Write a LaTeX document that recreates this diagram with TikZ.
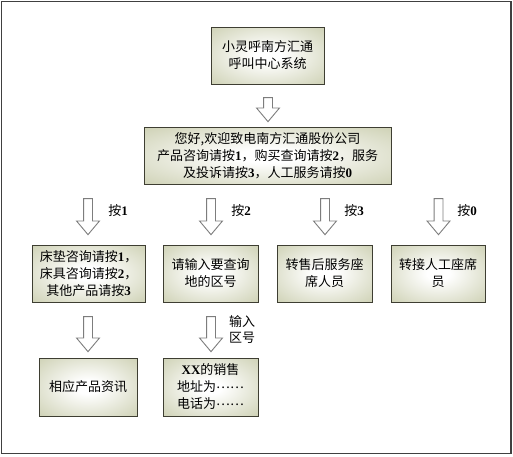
\documentclass[tikz,border=0pt]{standalone}
\usepackage{fontspec}
\setmainfont{Liberation Serif}
\newfontfamily\cjk{Noto Sans CJK SC}
\usetikzlibrary{shapes.arrows}
\definecolor{boxedge}{RGB}{190,194,156}
\definecolor{boxline}{RGB}{62,62,50}
\definecolor{arrline}{RGB}{125,125,125}
\pgfdeclareradialshading{boxshade}{\pgfpoint{0bp}{0bp}}{color(0bp)=(white); color(6bp)=(white); color(46bp)=(boxedge); color(80bp)=(boxedge)}
\newcommand\bdig[1]{{\rmfamily\bfseries #1}}
\newcommand\middots{\raisebox{0.3em}{……}}

\begin{document}
\begin{tikzpicture}[
    x=1pt, y=-1pt,
    box/.style={draw=boxline, line width=0.8pt, shading=boxshade,
                minimum height=57pt, align=center, inner sep=2pt,
                font=\cjk\fontsize{13}{17}\selectfont},
    blockarr/.style={single arrow, draw=arrline, fill=white, line width=0.9pt,
                     rotate=-90, inner xsep=0pt, inner ysep=4pt, minimum width=22pt,
                     single arrow head extend=7pt, single arrow tip angle=80},
    lbl/.style={font=\cjk\fontsize{13}{17}\selectfont, align=center}
  ]
  \useasboundingbox (0,0) rectangle (513,456);
  \draw[line width=1.5pt, black!75] (1.5,1.5) rectangle (511,453.5);

  % top
  \node[box, minimum width=113pt] (sys) at (267.5, 55.5)
    {小灵呼南方汇通\\呼叫中心系统};
  \node[blockarr, minimum height=24pt] (a-sys) at (268, 107) {};
  \node[box, minimum width=247pt] (menu) at (267.5, 156)
    {您好,欢迎致电南方汇通股份公司\\产品咨询请按\bdig{1}，购买查询请按\bdig{2}，服务\\及投诉请按\bdig{3}，人工服务请按\bdig{0}};

  % key arrows
  \node[blockarr, minimum height=36pt] (a-k1) at (88, 214) {};
  \node[blockarr, minimum height=36pt] (a-k2) at (211, 214) {};
  \node[blockarr, minimum height=36pt] (a-k3) at (325, 214) {};
  \node[blockarr, minimum height=36pt] (a-k0) at (438.5, 214) {};
  \node[lbl] (l-k1) at (118, 211) {按\bdig{1}};
  \node[lbl] (l-k2) at (241, 211) {按\bdig{2}};
  \node[lbl] (l-k3) at (354, 211) {按\bdig{3}};
  \node[lbl] (l-k0) at (467, 211) {按\bdig{0}};

  % options
  \node[box, minimum width=113pt] (opt1) at (88.5, 273.5)
    {床垫咨询请按\bdig{1}，\\床具咨询请按\bdig{2}，\\其他产品请按\bdig{3}};
  \node[box, minimum width=95pt] (opt2) at (210.5, 273.5)
    {请输入要查询\\地的区号};
  \node[box, minimum width=95pt] (opt3) at (324.5, 273.5)
    {转售后服务座\\席人员};
  \node[box, minimum width=94pt] (opt0) at (438, 273.5)
    {转接人工座席\\员};

  % results
  \node[blockarr, minimum height=35pt] (a-r1) at (88, 331.5) {};
  \node[blockarr, minimum height=35pt] (a-r2) at (211, 331.5) {};
  \node[lbl, font=\cjk\fontsize{13}{16}\selectfont] (l-r2) at (242, 330) {输入\\区号};
  \node[box, minimum width=98pt, minimum height=58pt] (res1) at (88, 387)
    {相应产品资讯};
  \node[box, minimum width=95pt, minimum height=58pt] (res2) at (210.5, 387)
    {\bdig{XX}的销售\\地址为\middots\\电话为\middots};
\end{tikzpicture}
\end{document}
